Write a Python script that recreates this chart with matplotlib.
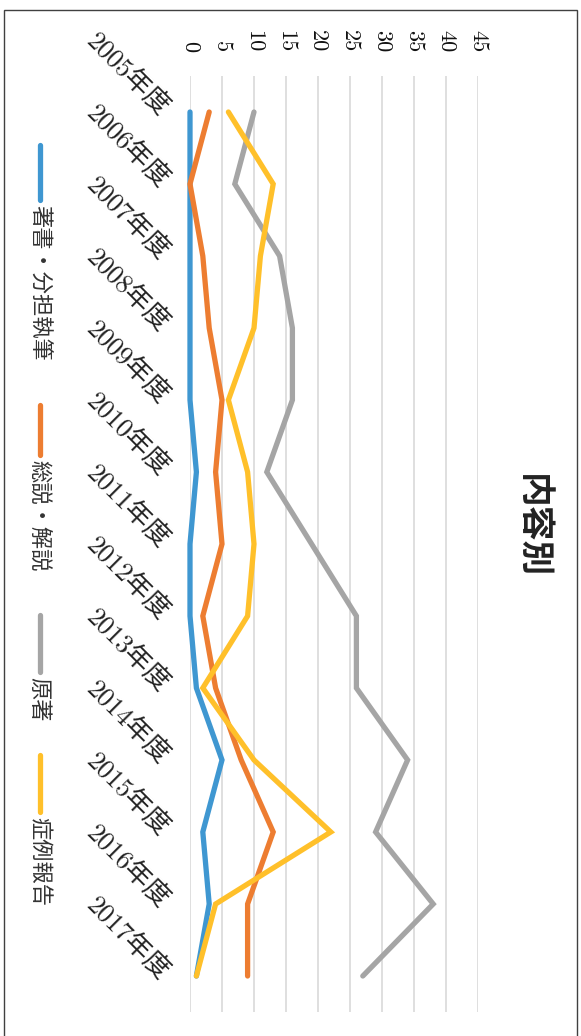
import matplotlib
matplotlib.use("Agg")
import matplotlib.pyplot as plt
from matplotlib.lines import Line2D
from matplotlib.patches import Rectangle

# データ
years = ["2005年度", "2006年度", "2007年度", "2008年度", "2009年度", "2010年度", "2011年度",
         "2012年度", "2013年度", "2014年度", "2015年度", "2016年度", "2017年度"]
series_names = ["著書・分担執筆", "総説・解説", "原著", "症例報告"]
books = [0, 0, 0, 0, 0, 1, 0, 0, 1, 5, 2, 3, 1]
reviews = [3, 0, 2, 3, 5, 4, 5, 2, 4, 8, 13, 9, 9]
originals = [10, 7, 14, 16, 16, 12, 19, 26, 26, 34, 29, 38, 27]
cases = [6, 13, 11, 10, 6, 9, 10, 9, 2, 10, 22, 4, 1]
value_ticks = [0, 5, 10, 15, 20, 25, 30, 35, 40, 45]
colors = ["#3F97D1", "#ED7D31", "#A5A5A5", "#FFC02A"]

W, H = 581, 1036
serif_cjk = ["cmr10", "Noto Sans CJK JP"]

fig = plt.figure(figsize=(W / 100, H / 100), dpi=100)

# 外枠
fig.add_artist(Rectangle((3.5 / W, -0.01), (577 - 3.5) / W, 1 - 10 / H + 0.01,
                         transform=fig.transFigure, fill=False,
                         edgecolor="#404040", linewidth=1.0))

# 縦向き（90度回転）のグラフ領域
ax = fig.add_axes([190 / W, 1 - 1012 / H, (478 - 190) / W, (1012 - 76) / H])
idx = list(range(len(years)))
for vals, c in zip([books, reviews, originals, cases], colors):
    ax.plot(vals, idx, color=c, linewidth=3.8, solid_capstyle="round",
            solid_joinstyle="miter", zorder=3, clip_on=False)

ax.set_xlim(0, 45)
ax.set_ylim(len(years) - 0.5, -0.5)
ax.set_xticks(value_ticks)
ax.xaxis.tick_top()
ax.set_xticklabels([str(v) for v in value_ticks], rotation=-90,
                   fontsize=16, family=serif_cjk, color="#111111")
ax.tick_params(axis="x", length=0, pad=17)
ax.set_yticks(idx)
ax.set_yticklabels(years, fontsize=19, family=serif_cjk, color="#222222",
                   rotation=-45, ha="right", va="center", rotation_mode="anchor")
ax.tick_params(axis="y", length=0, pad=18)
ax.grid(axis="x", color="#D9D9D9", linewidth=1.2)
ax.grid(axis="y", visible=False)
for s in ax.spines.values():
    s.set_visible(False)

# タイトル
fig.text(532 / W, 1 - 526 / H, "内容別", rotation=-90, ha="center", va="center",
         fontsize=25, fontweight="bold", family="Noto Sans CJK JP", color="#222222")

# 凡例（縦向き）
legend_pos = [(145, 200), (405, 455), (615, 672), (755, 812)]
for name, c, (y0, y1) in zip(series_names, colors, legend_pos):
    fig.add_artist(Line2D([40 / W, 40 / W], [1 - y0 / H, 1 - y1 / H],
                          transform=fig.transFigure, color=c, linewidth=3.8,
                          solid_capstyle="round"))
    fig.text(39 / W, 1 - (y1 + 5) / H, name, rotation=-90, ha="center", va="top",
             fontsize=16, family="Noto Sans CJK JP", color="#333333")

fig.savefig("out.png", dpi=100)
